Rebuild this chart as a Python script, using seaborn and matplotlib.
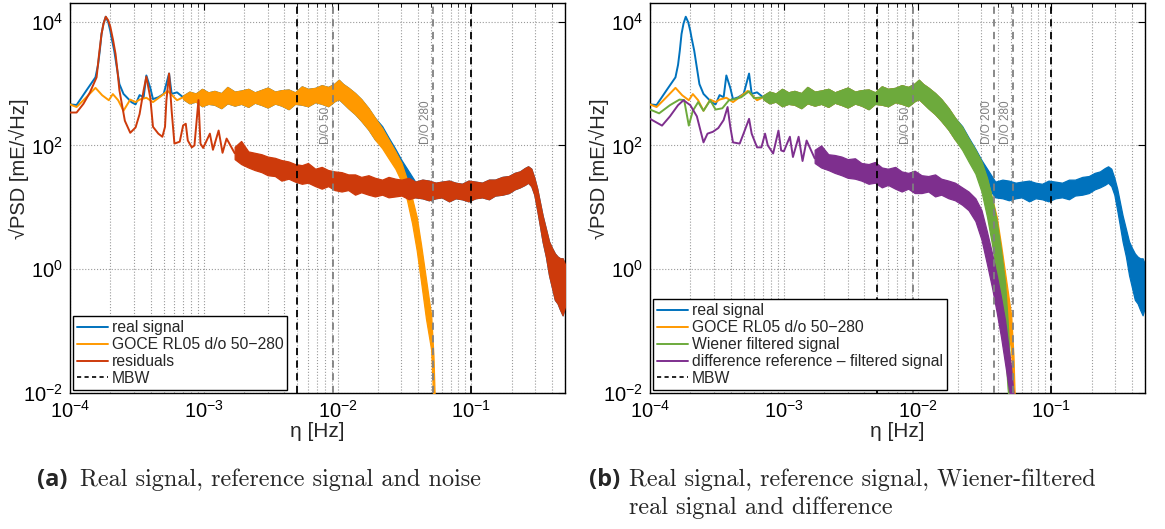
import matplotlib
matplotlib.use('Agg')
import matplotlib.pyplot as plt
import matplotlib.ticker as mticker
from matplotlib.lines import Line2D
import seaborn as sns

sns.set_style('white')
plt.rcParams['font.family'] = ['Liberation Sans', 'DejaVu Sans']
plt.rcParams['mathtext.fontset'] = 'custom'
plt.rcParams['mathtext.rm'] = 'Liberation Sans'
plt.rcParams['mathtext.it'] = 'Liberation Sans:italic'
plt.rcParams['mathtext.bf'] = 'Liberation Sans:bold'

# ---- data (frequency in Hz, sqrt(PSD) in mE/sqrt(Hz)) ----
# real signal, smooth low-frequency part
real_f = [1.0e-4, 1.12e-4, 1.33e-4, 1.55e-4, 1.62e-4, 1.67e-4, 1.72e-4, 1.78e-4, 1.85e-4,
          1.93e-4, 2.0e-4, 2.04e-4, 2.14e-4, 2.24e-4, 2.34e-4, 2.51e-4, 2.88e-4, 3.09e-4,
          3.31e-4, 3.55e-4, 3.72e-4, 3.98e-4, 4.17e-4, 4.57e-4, 5.01e-4, 5.50e-4, 5.75e-4,
          6.31e-4, 7.0e-4]
real_v = [460, 450, 780, 1260, 2000, 3400, 6300, 9300, 12000,
          9800, 7100, 5600, 3400, 1800, 980, 680, 500, 460,
          650, 600, 1350, 850, 560, 600, 680, 1450, 680,
          720, 600]

# GOCE RL05 reference
ref_f = [1.0e-4, 1.12e-4, 1.26e-4, 1.55e-4, 1.74e-4, 1.95e-4, 2.09e-4, 2.29e-4, 2.51e-4,
         2.82e-4, 3.09e-4, 3.31e-4, 3.72e-4, 4.17e-4, 4.68e-4, 5.37e-4, 6.31e-4, 7.0e-4]
ref_v = [460, 417, 537, 851, 646, 537, 676, 537, 363,
         550, 501, 550, 589, 501, 603, 759, 537, 600]
ref_band_f = [7.0e-4, 7.8e-4, 8.7e-4, 9.7e-4, 1.08e-3, 1.2e-3, 1.35e-3, 1.5e-3, 1.7e-3, 1.9e-3,
              2.15e-3, 2.4e-3, 2.7e-3, 3.0e-3, 3.4e-3, 3.8e-3, 4.3e-3, 4.8e-3, 5.4e-3, 6.0e-3,
              6.8e-3, 7.6e-3, 8.5e-3, 9.5e-3, 1.02e-2, 1.1e-2, 1.2e-2, 1.35e-2, 1.5e-2, 1.7e-2,
              1.9e-2, 2.15e-2, 2.4e-2, 2.7e-2, 3.0e-2, 3.3e-2, 3.6e-2, 3.9e-2, 4.2e-2, 4.57e-2,
              5.0e-2, 5.2e-2, 5.3e-2]
ref_band_lo = [560, 480, 510, 430, 470, 455, 400, 480, 440, 470,
               420, 490, 450, 410, 475, 440, 385, 470, 455, 430,
               500, 470, 430, 520, 560, 480, 400, 320, 250, 180,
               125, 90, 62, 42, 26, 13, 5.5, 2.0, 0.63, 0.16,
               0.05, 0.0063, 0.004]
ref_band_hi = [640, 740, 690, 820, 720, 760, 700, 880, 740, 770,
               820, 720, 790, 860, 740, 780, 800, 720, 900, 820,
               850, 940, 880, 1000, 1150, 980, 860, 700, 560, 400,
               280, 190, 125, 80, 52, 28, 14, 7.0, 2.5, 0.7,
               0.18, 0.04, 0.01]

# residuals (real - reference)
res_f = [1.0e-4, 1.12e-4, 1.26e-4, 1.41e-4, 1.58e-4, 1.65e-4, 1.72e-4, 1.78e-4, 1.85e-4,
         1.93e-4, 2.0e-4, 2.1e-4, 2.19e-4, 2.27e-4, 2.34e-4, 2.57e-4, 2.82e-4, 3.09e-4,
         3.31e-4, 3.55e-4, 3.72e-4, 3.98e-4, 4.17e-4, 4.57e-4, 4.90e-4, 5.13e-4, 5.25e-4,
         5.50e-4, 5.75e-4, 6.03e-4, 6.61e-4, 7.0e-4, 7.33e-4, 7.59e-4, 8.13e-4, 8.51e-4,
         9.12e-4, 9.44e-4, 9.89e-4, 1.11e-3, 1.17e-3, 1.29e-3, 1.38e-3, 1.48e-3, 1.7e-3]
res_v = [340, 340, 470, 720, 1260, 3000, 6300, 9300, 12000,
         10500, 8300, 5000, 3000, 1500, 780, 250, 160, 195,
         320, 780, 1290, 590, 200, 155, 138, 200, 525,
         1450, 360, 107, 115, 210, 224, 120, 93, 100,
         540, 107, 91, 155, 85, 174, 76, 129, 75]
res_band_f = [1.70e-3, 1.90e-3, 2.15e-3, 2.4e-3, 2.7e-3, 3.0e-3, 3.4e-3, 3.8e-3, 4.3e-3, 4.8e-3,
              5.4e-3, 6.0e-3, 6.8e-3, 7.6e-3, 8.5e-3, 9.5e-3, 1.07e-2, 1.2e-2, 1.35e-2, 1.5e-2,
              1.7e-2, 1.9e-2, 2.15e-2, 2.4e-2, 2.7e-2, 3.0e-2, 3.4e-2, 3.8e-2, 4.3e-2, 4.8e-2,
              5.4e-2, 6.0e-2, 6.8e-2, 7.6e-2, 8.5e-2, 9.5e-2, 0.107, 0.12, 0.135, 0.15,
              0.17, 0.19, 0.21, 0.23, 0.25, 0.265, 0.28, 0.295, 0.31, 0.325,
              0.34, 0.36, 0.38, 0.40, 0.42, 0.44, 0.46, 0.48, 0.5]
res_band_lo = [60, 50, 44, 40, 37, 33, 32, 27, 29, 26,
               24, 25, 22, 20, 22, 19, 18, 19, 16, 17.5,
               16, 15, 16, 14.5, 15, 15.5, 13.5, 14.5, 14, 13,
               14, 14.5, 12.5, 14, 13.5, 12.5, 14, 14.5, 13.5, 15.5,
               16, 17, 19.5, 21, 23, 25, 22, 16, 9, 5,
               2.8, 1.6, 0.8, 0.5, 0.32, 0.28, 0.22, 0.18, 0.25]
res_band_hi = [95, 118, 80, 76, 72, 66, 63, 58, 55, 50,
               48, 52, 42, 45, 40, 38, 37, 34, 34, 31,
               33, 30, 28, 31, 29, 28, 30, 26, 28, 27,
               25, 26, 27, 25, 24, 27, 26, 25, 28, 28,
               31, 32, 36, 38, 43, 46, 42, 30, 20, 12,
               7.4, 4.5, 2.8, 2.2, 1.8, 1.6, 1.5, 1.5, 1.2]

# real signal band between reference roll-off and residual floor (blue edge visible there)
real_mid_f = [2.15e-2, 2.4e-2, 2.7e-2, 3.0e-2, 3.4e-2]
real_mid_lo = [95, 68, 46, 30, 20]
real_mid_hi = [205, 135, 88, 58, 38]
# below 0.02 the real signal lies under the reference, above 0.035 under the residuals
real_band = ([(f, lo, hi) for f, lo, hi in zip(ref_band_f, ref_band_lo, ref_band_hi) if f < 0.02]
             + list(zip(real_mid_f, real_mid_lo, real_mid_hi))
             + [(f, lo, hi) for f, lo, hi in zip(res_band_f, res_band_lo, res_band_hi) if f > 0.035])
real_band_f = [b[0] for b in real_band]
real_band_lo = [b[1] for b in real_band]
real_band_hi = [b[2] for b in real_band]

# Wiener filtered signal (identical to the reference below 0.02 Hz)
wien_f = [1.0e-4, 1.17e-4, 1.41e-4, 1.66e-4, 1.8e-4, 1.95e-4, 2.09e-4, 2.29e-4, 2.51e-4,
          2.82e-4, 3.09e-4, 3.47e-4, 3.89e-4, 4.3e-4, 4.8e-4, 5.5e-4, 6.0e-4, 7.0e-4]
wien_v = [380, 330, 447, 550, 540, 209, 363, 501, 363,
          537, 380, 398, 537, 560, 600, 750, 580, 600]
wien_tail_f = [2.15e-2, 2.4e-2, 2.7e-2, 3.0e-2, 3.3e-2, 3.6e-2, 3.9e-2, 4.2e-2, 4.5e-2, 4.7e-2, 4.9e-2]
wien_tail_lo = [85, 55, 35, 18, 7, 2.5, 0.8, 0.2, 0.05, 0.012, 0.005]
wien_tail_hi = [200, 130, 85, 55, 30, 14, 6, 2, 0.6, 0.15, 0.03]
wien_band = ([(f, lo, hi) for f, lo, hi in zip(ref_band_f, ref_band_lo, ref_band_hi) if f < 0.02]
             + list(zip(wien_tail_f, wien_tail_lo, wien_tail_hi)))
wien_band_f = [b[0] for b in wien_band]
wien_band_lo = [b[1] for b in wien_band]
wien_band_hi = [b[2] for b in wien_band]

# difference reference - filtered signal
diff_f = [1.0e-4, 1.23e-4, 1.41e-4, 1.62e-4, 1.78e-4, 2.0e-4, 2.24e-4, 2.51e-4, 2.69e-4,
          2.95e-4, 3.24e-4, 3.55e-4, 3.80e-4, 3.98e-4, 4.17e-4, 4.68e-4, 5.0e-4, 5.50e-4,
          5.75e-4, 6.31e-4, 6.8e-4, 7.24e-4, 7.59e-4, 8.32e-4, 9.12e-4, 9.55e-4, 1.0e-3,
          1.11e-3, 1.17e-3, 1.29e-3, 1.38e-3, 1.48e-3, 1.7e-3]
diff_v = [269, 209, 295, 447, 537, 447, 295, 112, 155,
          166, 191, 257, 417, 200, 112, 107, 155, 269,
          155, 93, 93, 155, 100, 74, 174, 83, 80,
          138, 65, 138, 56, 120, 62]
diff_band_f = [1.70e-3, 1.90e-3, 2.15e-3, 2.4e-3, 2.7e-3, 3.0e-3, 3.4e-3, 3.8e-3, 4.3e-3, 4.8e-3,
               5.4e-3, 6.0e-3, 6.8e-3, 7.6e-3, 8.5e-3, 9.5e-3, 1.07e-2, 1.2e-2, 1.35e-2, 1.5e-2,
               1.7e-2, 1.9e-2, 2.15e-2, 2.4e-2, 2.7e-2, 3.0e-2, 3.3e-2, 3.6e-2, 3.9e-2, 4.2e-2,
               4.5e-2, 4.8e-2, 5.0e-2, 5.2e-2]
diff_band_lo = [52, 44, 40, 36, 33, 30, 29, 27, 24, 25,
                21, 23, 20, 18, 20, 17, 17, 18, 15, 16,
                14, 13, 11, 9, 6, 3, 1.2, 0.5, 0.2, 0.08,
                0.03, 0.012, 0.007, 0.005]
diff_band_hi = [85, 100, 72, 70, 66, 60, 62, 52, 50, 54,
                44, 42, 45, 38, 36, 39, 33, 32, 34, 29,
                27, 25, 21, 18, 14, 9, 4, 1.8, 0.8, 0.35,
                0.15, 0.05, 0.025, 0.01]

# vertical markers
mbw_lines = [5e-3, 1e-1]
do_degrees_a = [50, 280]
do_degrees_b = [50, 200, 280]
orbit_period = 5400.0  # s, degree n -> n / period

C_REAL = '#0072BD'
C_REF = '#FF9900'
C_RES = '#CD3A0B'
C_WIEN = '#6DAA3C'
C_DIFF = '#7E2F8E'

LABELS = {
    'real': 'real signal',
    'ref': 'GOCE RL05 d/o 50\u2212280',
    'res': 'residuals',
    'wien': 'Wiener filtered signal',
    'diff': 'difference reference \u2013 filtered signal',
    'mbw': 'MBW',
}


def draw_curve(ax, f, v, band_f, band_lo, band_hi, color, z):
    sns.lineplot(x=f, y=v, ax=ax, color=color, lw=1.4, estimator=None,
                 sort=False, zorder=z, legend=False)
    ax.fill_between(band_f, band_lo, band_hi, color=color, edgecolor=color,
                    lw=0.9, zorder=z)


def style_axes(ax):
    ax.set_xscale('log')
    ax.set_yscale('log')
    ax.set_xlim(1e-4, 0.5)
    ax.set_ylim(1e-2, 2e4)
    ax.xaxis.set_major_locator(mticker.LogLocator(base=10))
    ax.xaxis.set_minor_locator(mticker.LogLocator(base=10, subs=range(2, 10), numticks=20))
    ax.xaxis.set_minor_formatter(mticker.NullFormatter())
    ax.yaxis.set_major_locator(mticker.FixedLocator([1e-2, 1, 1e2, 1e4]))
    ax.yaxis.set_major_formatter(mticker.LogFormatterSciNotation())
    ax.yaxis.set_minor_locator(mticker.NullLocator())
    ax.set_axisbelow(True)
    ax.grid(True, which='major', ls=':', color='#9a9a9a', lw=0.8)
    ax.grid(True, which='minor', axis='x', ls=':', color='#9a9a9a', lw=0.8)
    ax.tick_params(which='both', direction='in', top=True, right=True,
                   labelsize=14.5, colors='black', pad=5)
    ax.tick_params(which='major', length=5, width=0.8)
    ax.tick_params(which='minor', length=3, width=0.6)
    for s in ax.spines.values():
        s.set_color('black')
        s.set_linewidth(1.0)
    ax.set_xlabel('\u03b7 [Hz]', fontsize=15, labelpad=0)
    ax.set_ylabel('\u221aPSD [mE/\u221aHz]', fontsize=14.5)
    ax.yaxis.set_label_coords(-0.083, 0.575)


def draw_markers(ax, degrees):
    for f in mbw_lines:
        ax.axvline(f, color='black', ls=(0, (4, 3)), lw=1.3, zorder=6)
    for n in degrees:
        f = n / orbit_period
        ax.axvline(f, color='#808080', ls=(0, (4, 3)), lw=1.3, zorder=6)
        ax.text(f * 0.985, 105, f'D/O {n}', rotation=90, ha='right', va='bottom',
                color='#808080', fontsize=8.5, zorder=7)


def add_legend(ax, keys, colors):
    handles = [Line2D([], [], color=c, lw=1.4) for c in colors]
    handles.append(Line2D([], [], color='black', ls=(0, (2.5, 2)), lw=1.2))
    labels = [LABELS[k] for k in keys] + [LABELS['mbw']]
    leg = ax.legend(handles, labels, loc='lower left', fontsize=11.3, frameon=True,
                    fancybox=False, edgecolor='black', framealpha=1,
                    borderaxespad=0.2, handlelength=2.0, handletextpad=0.2,
                    labelspacing=0.12, borderpad=0.25)
    leg.get_frame().set_linewidth(1.0)
    leg.set_zorder(10)


fig = plt.figure(figsize=(11.65, 5.29), dpi=100)
ax_a = fig.add_axes([70 / 1165, 136 / 529, 495 / 1165, 390 / 529])
ax_b = fig.add_axes([650 / 1165, 136 / 529, 495 / 1165, 390 / 529])

# panel (a)
draw_curve(ax_a, real_f, real_v, real_band_f, real_band_lo, real_band_hi, C_REAL, 2)
draw_curve(ax_a, ref_f, ref_v, ref_band_f, ref_band_lo, ref_band_hi, C_REF, 3)
draw_curve(ax_a, res_f, res_v, res_band_f, res_band_lo, res_band_hi, C_RES, 4)
style_axes(ax_a)
draw_markers(ax_a, do_degrees_a)
add_legend(ax_a, ['real', 'ref', 'res'], [C_REAL, C_REF, C_RES])

# panel (b)
draw_curve(ax_b, real_f, real_v, real_band_f, real_band_lo, real_band_hi, C_REAL, 2)
draw_curve(ax_b, ref_f, ref_v, ref_band_f, ref_band_lo, ref_band_hi, C_REF, 3)
draw_curve(ax_b, wien_f, wien_v, wien_band_f, wien_band_lo, wien_band_hi, C_WIEN, 4)
draw_curve(ax_b, diff_f, diff_v, diff_band_f, diff_band_lo, diff_band_hi, C_DIFF, 5)
style_axes(ax_b)
draw_markers(ax_b, do_degrees_b)
add_legend(ax_b, ['real', 'ref', 'wien', 'diff'], [C_REAL, C_REF, C_WIEN, C_DIFF])

# sub-captions
cap_y = 1 - 486 / 529
bold_font = ['Open Sans', 'DejaVu Sans']
serif_font = ['cmr10', 'DejaVu Serif']
fig.text(37 / 1165, cap_y, '(a)', fontsize=17, fontweight='bold', family=bold_font, va='baseline')
fig.text(80 / 1165, cap_y, 'Real signal, reference signal and noise', fontsize=17.5,
         family=serif_font, va='baseline')
fig.text(589 / 1165, cap_y, '(b)', fontsize=17, fontweight='bold', family=bold_font, va='baseline')
fig.text(629 / 1165, cap_y, 'Real signal, reference signal, Wiener-filtered', fontsize=17.5,
         family=serif_font, va='baseline')
fig.text(629 / 1165, 1 - 514 / 529, 'real signal and difference', fontsize=17.5,
         family=serif_font, va='baseline')

fig.savefig('out.png', dpi=100, facecolor='white')
